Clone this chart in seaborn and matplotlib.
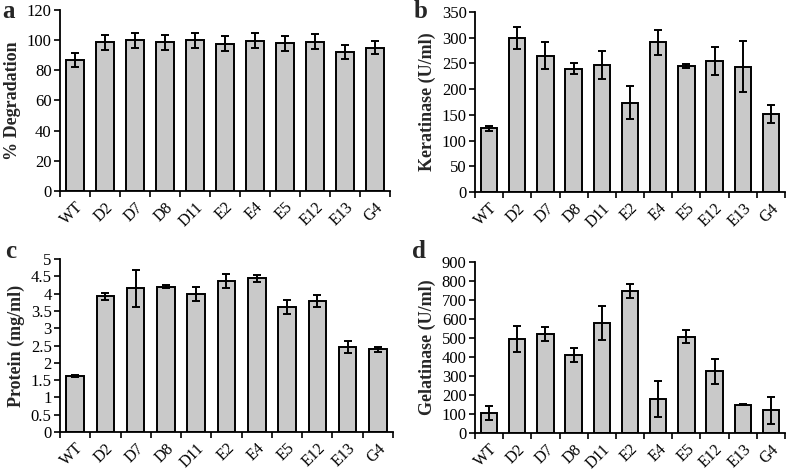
import matplotlib
matplotlib.use("Agg")
import matplotlib.pyplot as plt
import seaborn as sns
import numpy as np

cats = ["WT", "D2", "D7", "D8", "D11", "E2", "E4", "E5", "E12", "E13", "G4"]

degradation = [87, 98.5, 100, 98.5, 100, 97.5, 99.5, 98, 99, 92, 95]
degradation_err = [4.5, 5, 5, 5, 5, 5, 5, 5, 5, 4.5, 4.5]

keratinase = [124, 299, 265, 240, 247, 174, 291, 245, 254, 244, 152]
keratinase_err = [5, 21, 26, 10, 28, 33, 24, 3, 27, 50, 17]

protein = [1.62, 3.92, 4.15, 4.2, 4.0, 4.36, 4.44, 3.62, 3.78, 2.45, 2.39]
protein_err = [0.04, 0.11, 0.53, 0.05, 0.2, 0.2, 0.1, 0.2, 0.17, 0.18, 0.08]

gelatinase = [105, 495, 521, 412, 579, 749, 181, 507, 325, 149, 119]
gelatinase_err = [35, 68, 38, 38, 88, 37, 95, 33, 66, 2, 73]

sns.set_style("ticks")
plt.rcParams["font.family"] = ["Liberation Serif", "DejaVu Serif"]
plt.rcParams["axes.edgecolor"] = "black"
plt.rcParams["xtick.color"] = "black"
plt.rcParams["ytick.color"] = "black"

fig = plt.figure(figsize=(7.87, 4.71), dpi=100)

panels = [
    ("a", degradation, degradation_err, "% Degradation", (0, 120), np.arange(0, 121, 20),
     [0.0762, 0.5945, 0.4194, 0.3843], (0.003, 0.962)),
    ("b", keratinase, keratinase_err, "Keratinase (U/ml)", (0, 350), np.arange(0, 351, 50),
     [0.6036, 0.5924, 0.3939, 0.3821], (0.525, 0.962)),
    ("c", protein, protein_err, "Protein (mg/ml)", (0, 5), np.arange(0, 5.01, 0.5),
     [0.0762, 0.0828, 0.4232, 0.3673], (0.006, 0.452)),
    ("d", gelatinase, gelatinase_err, "Gelatinase (U/ml)", (0, 900), np.arange(0, 901, 100),
     [0.6036, 0.0807, 0.3939, 0.3630], (0.524, 0.452)),
]

for letter, vals, errs, ylabel, ylim, yticks, rect, lpos in panels:
    ax = fig.add_axes(rect)
    sns.barplot(x=cats, y=vals, color="#c9c9c9", saturation=1, width=0.58,
                edgecolor="black", linewidth=1.4, errorbar=None, ax=ax)
    ax.errorbar(x=np.arange(len(cats)), y=vals, yerr=errs, fmt="none",
                ecolor="black", elinewidth=1.4, capsize=3, capthick=1.4)
    ax.set_ylim(*ylim)
    ax.set_xlim(-0.5, len(cats) - 0.5)
    ax.set_yticks(yticks)
    if letter == "c":
        ax.set_yticklabels([("%g" % t) for t in yticks])
    ax.set_xticks(np.arange(len(cats)))
    ax.set_xticklabels(cats, rotation=45, ha="right", rotation_mode="anchor", fontsize=11.5)
    ax.tick_params(axis="x", length=0, pad=6)
    ax.set_xticks(np.arange(-0.5, len(cats)), minor=True)
    ax.tick_params(axis="x", which="minor", length=4, width=1.2, direction="out")
    ax.tick_params(axis="y", labelsize=12, length=4, width=1.2, direction="out", pad=2)
    ax.set_ylabel(ylabel, fontsize=13, fontweight="bold", labelpad=4)
    for s in ["top", "right"]:
        ax.spines[s].set_visible(False)
    for s in ["left", "bottom"]:
        ax.spines[s].set_linewidth(1.3)
    fig.text(lpos[0], lpos[1], letter, fontsize=18, fontweight="bold",
             va="baseline", ha="left")

fig.savefig("out.png", dpi=100)
